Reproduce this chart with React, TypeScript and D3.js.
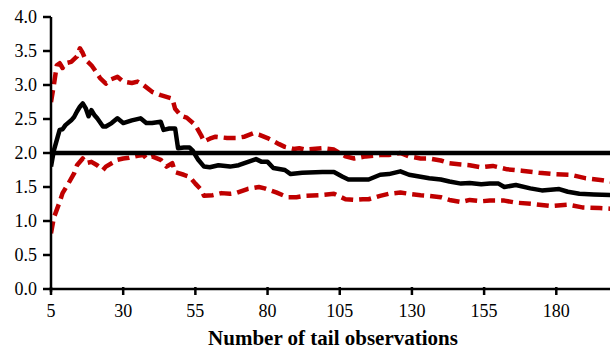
import React from "react";
import * as d3 from "d3";

const xTicks = [5, 30, 55, 80, 105, 130, 155, 180];
const yTicks = [0, 0.5, 1, 1.5, 2, 2.5, 3, 3.5, 4];
const referenceLevel = 2.0;

const estX = [5,6,8,9,10,12,13,14,15,16,17,18,19,20,21,23,24,26,28,30,33,36,38,40,43,44,46,48,49,51,53,54,56,58,60,63,67,70,72,76,78,80,82,86,88,92,99,103,106,108,113,115,119,122,126,129,133,136,140,143,147,150,154,157,160,162,166,171,175,181,184,188,193,199];
const estY = [1.80,2.04,2.34,2.35,2.41,2.48,2.53,2.61,2.68,2.73,2.66,2.54,2.63,2.56,2.51,2.39,2.39,2.44,2.51,2.44,2.48,2.51,2.44,2.44,2.46,2.34,2.36,2.36,2.07,2.08,2.08,2.04,1.90,1.80,1.79,1.82,1.80,1.82,1.85,1.91,1.87,1.87,1.78,1.75,1.69,1.71,1.72,1.72,1.65,1.61,1.61,1.61,1.68,1.69,1.73,1.68,1.65,1.63,1.61,1.58,1.55,1.56,1.54,1.55,1.55,1.50,1.53,1.48,1.45,1.47,1.43,1.40,1.39,1.38];

const upX = [5,6,7,8,9,10,12,14,15,16,17,19,21,22,24,25,28,30,33,35,37,40,43,47,48,50,52,55,57,58,60,62,66,69,72,75,77,80,84,86,89,91,93,99,103,105,107,110,114,119,122,126,129,133,136,140,143,147,150,154,158,163,168,174,179,185,190,196,199];
const upY = [2.75,3.00,3.29,3.32,3.25,3.32,3.34,3.42,3.54,3.47,3.37,3.29,3.17,3.10,3.02,3.07,3.12,3.05,3.03,3.05,3.00,2.90,2.85,2.80,2.65,2.55,2.52,2.41,2.26,2.17,2.21,2.24,2.22,2.22,2.24,2.29,2.27,2.22,2.13,2.09,2.06,2.07,2.05,2.07,2.05,2.00,1.95,1.92,1.95,1.97,1.97,2.00,1.95,1.92,1.92,1.89,1.85,1.83,1.82,1.79,1.81,1.76,1.74,1.71,1.69,1.68,1.63,1.60,1.58];

const loX = [5,6,8,9,11,13,14,16,17,19,21,23,24,26,28,30,32,35,37,38,40,43,45,47,48,51,53,55,57,58,61,64,67,69,73,77,79,83,87,90,93,98,103,107,110,113,115,119,122,126,129,133,136,140,143,147,150,154,157,162,166,172,178,184,189,195,199];
const loY = [0.82,1.05,1.28,1.41,1.55,1.70,1.82,1.92,1.85,1.87,1.82,1.75,1.80,1.85,1.90,1.92,1.93,1.96,1.97,1.92,1.95,1.90,1.80,1.85,1.72,1.68,1.65,1.55,1.46,1.37,1.38,1.41,1.40,1.41,1.47,1.50,1.48,1.42,1.35,1.35,1.37,1.38,1.40,1.32,1.31,1.32,1.32,1.37,1.40,1.42,1.40,1.38,1.37,1.35,1.31,1.28,1.31,1.29,1.30,1.30,1.27,1.25,1.22,1.24,1.20,1.19,1.18];

const W = 610;
const H = 351;
const FONT = "'Liberation Serif', 'Times New Roman', serif";

export default function App() {
  const x = d3.scaleLinear().domain([5, 198.6]).range([51, 610]);
  const y = d3.scaleLinear().domain([0, 4]).range([289, 17]);
  const line = d3
    .line<[number, number]>()
    .x((d) => x(d[0]))
    .y((d) => y(d[1]));
  const zip = (a: number[], b: number[]) => a.map((v, i) => [v, b[i]] as [number, number]);
  const red = "#C00000";

  return (
    <svg
      width={W}
      height={H}
      style={{ position: "absolute", left: 0, top: 0, background: "#fff" }}
      fontFamily={FONT}
    >
      <defs>
        <clipPath id="plot">
          <rect x={51} y={0} width={W - 51} height={289} />
        </clipPath>
      </defs>
      <g clipPath="url(#plot)">
        <path d={line(zip(upX, upY)) || ""} fill="none" stroke={red} strokeWidth={4.5} strokeDasharray="12,6" strokeLinejoin="round" />
        <path d={line(zip(loX, loY)) || ""} fill="none" stroke={red} strokeWidth={4.5} strokeDasharray="12,6" strokeLinejoin="round" />
        <line x1={x(5)} x2={W} y1={y(referenceLevel)} y2={y(referenceLevel)} stroke="#000" strokeWidth={4.5} />
        <path d={line(zip(estX, estY)) || ""} fill="none" stroke="#000" strokeWidth={4.5} strokeLinejoin="round" />
      </g>
      {/* y axis */}
      <line x1={51} x2={51} y1={y(4)} y2={y(0) + 3} stroke="#000" strokeWidth={2.5} />
      {yTicks.map((t) => (
        <g key={t}>
          <line x1={43} x2={51} y1={y(t)} y2={y(t)} stroke="#000" strokeWidth={2.5} />
          <text x={37} y={y(t) + 6} textAnchor="end" fontSize={18} fill="#000">
            {t.toFixed(1)}
          </text>
        </g>
      ))}
      {/* x axis */}
      <line x1={51} x2={W} y1={y(0)} y2={y(0)} stroke="#000" strokeWidth={2.5} />
      {xTicks.map((t) => (
        <g key={t}>
          <line x1={x(t)} x2={x(t)} y1={y(0) - 2} y2={y(0) + 6} stroke="#000" strokeWidth={2.5} />
          <text x={x(t)} y={316.5} textAnchor="middle" fontSize={18} fill="#000">
            {t}
          </text>
        </g>
      ))}
      <text x={333} y={345} textAnchor="middle" fontSize={21} fontWeight="bold" fill="#000">
        Number of tail observations
      </text>
    </svg>
  );
}
